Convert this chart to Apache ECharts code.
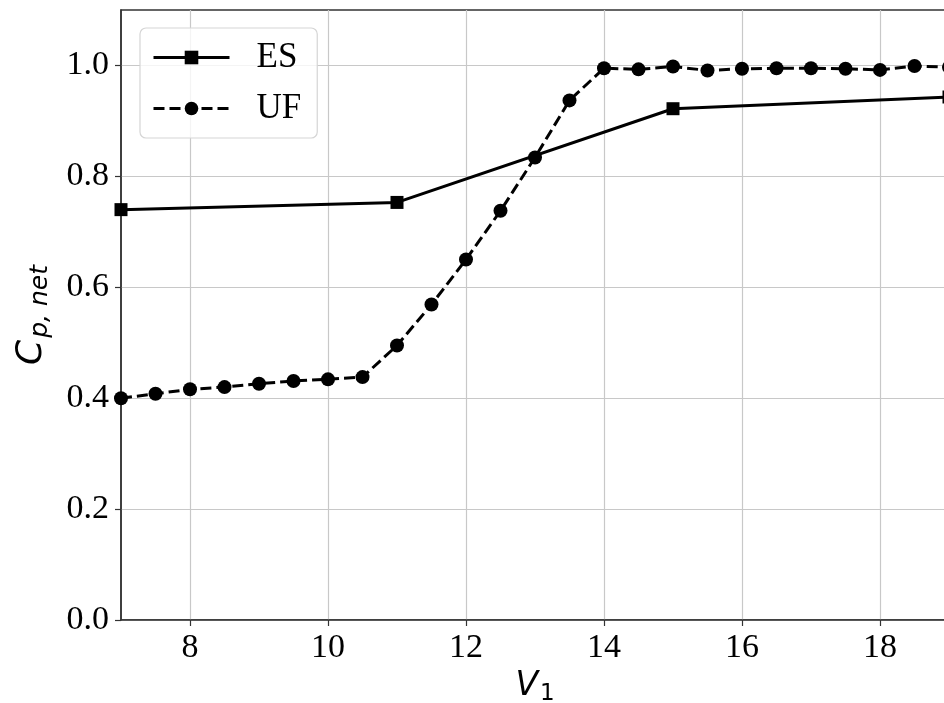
<!DOCTYPE html>
<html>
<head>
<meta charset="utf-8">
<script src="https://cdn.jsdelivr.net/npm/echarts@6/dist/echarts.min.js"></script>
<style>html,body{margin:0;padding:0;background:#fff;}#c{width:944px;height:703px;}</style>
</head>
<body>
<div id="c"></div>
<script>
var esX = [7, 11, 15, 19];
var esY = [0.740, 0.753, 0.922, 0.943];
var ufX = [7, 7.5, 8, 8.5, 9, 9.5, 10, 10.5, 11, 11.5, 12, 12.5, 13, 13.5, 14, 14.5, 15, 15.5, 16, 16.5, 17, 17.5, 18, 18.5, 19];
var ufY = [0.400, 0.408, 0.416, 0.420, 0.426, 0.431, 0.434, 0.438, 0.495, 0.569, 0.650, 0.738, 0.834, 0.937, 0.995, 0.993, 0.998, 0.991, 0.994, 0.995, 0.995, 0.994, 0.992, 0.999, 0.997];
var xTicks = [8, 10, 12, 14, 16, 18];
var yTicks = [0.0, 0.2, 0.4, 0.6, 0.8, 1.0];

function pairs(xs, ys) { return xs.map(function (x, i) { return [x, ys[i]]; }); }

var chart = echarts.init(document.getElementById('c'), null, {renderer: 'canvas'});
var serif = '"Liberation Serif", "DejaVu Serif", serif';
var sans = '"DejaVu Sans", sans-serif';
chart.setOption({
  animation: false,
  backgroundColor: '#fff',
  grid: {left: 121, top: 10, right: -5, bottom: 83, show: true, borderColor: '#333', borderWidth: 1.5,
    containLabel: false, outerBoundsMode: 'none'},
  legend: {
    left: 140, top: 28,
    orient: 'vertical',
    padding: [12, 16, 12, 12],
    itemGap: 16,
    itemWidth: 76, itemHeight: 17,
    borderColor: '#d5d5d5', borderWidth: 1.2, borderRadius: 6,
    backgroundColor: 'rgba(255,255,255,0.8)',
    lineStyle: {width: 3},
    textStyle: {fontFamily: serif, fontSize: 35, color: '#000', padding: [0, 0, 0, 22]},
    data: ['ES', 'UF']
  },
  xAxis: {
    type: 'value', min: 7, max: 19, interval: 1,
    name: '{v|V}{s|1}', nameLocation: 'middle', nameGap: 45,
    nameTextStyle: {rich: {
      v: {fontFamily: sans, fontStyle: 'italic', fontSize: 33, color: '#000'},
      s: {fontFamily: sans, fontSize: 23, color: '#000', padding: [16, 0, 0, 2]}
    }},
    axisLine: {show: true, onZero: false, lineStyle: {color: '#333', width: 1.5}},
    axisTick: {show: true, length: 6, lineStyle: {color: '#333', width: 1.2},
      customValues: xTicks},
    axisLabel: {fontFamily: serif, fontSize: 34, color: '#000', margin: 11,
      customValues: xTicks},
    splitLine: {show: true, lineStyle: {color: '#c8c8c8', width: 1.2},
      customValues: xTicks},
    showMinLabel: false, showMaxLabel: false
  },
  yAxis: {
    type: 'value', min: 0, max: 1.1, interval: 0.1,
    name: '{c|C}{s|p, net}', nameLocation: 'middle', nameGap: 68, nameRotate: 90,
    nameTextStyle: {rich: {
      c: {fontFamily: sans, fontStyle: 'italic', fontSize: 36, color: '#000'},
      s: {fontFamily: sans, fontStyle: 'italic', fontSize: 25, color: '#000', padding: [17, 0, 0, 2]}
    }},
    axisLine: {show: true, lineStyle: {color: '#333', width: 1.5}},
    axisTick: {show: true, length: 6, lineStyle: {color: '#333', width: 1.2},
      customValues: yTicks},
    axisLabel: {fontFamily: serif, fontSize: 34, color: '#000', margin: 12,
      customValues: yTicks,
      formatter: function (v) { return v.toFixed(1); }},
    splitLine: {show: true, lineStyle: {color: '#c8c8c8', width: 1.2},
      customValues: yTicks}
  },
  series: [
    {
      name: 'ES', type: 'line', data: pairs(esX, esY),
      symbol: 'rect', symbolSize: 13, clip: false,
      lineStyle: {color: '#000', width: 3},
      itemStyle: {color: '#000'},
      z: 3
    },
    {
      name: 'UF', type: 'line', data: pairs(ufX, ufY),
      symbol: 'circle', symbolSize: 14, clip: false,
      lineStyle: {color: '#000', width: 3, type: [11, 5]},
      itemStyle: {color: '#000'},
      z: 4
    }
  ]
});
</script>
</body>
</html>
